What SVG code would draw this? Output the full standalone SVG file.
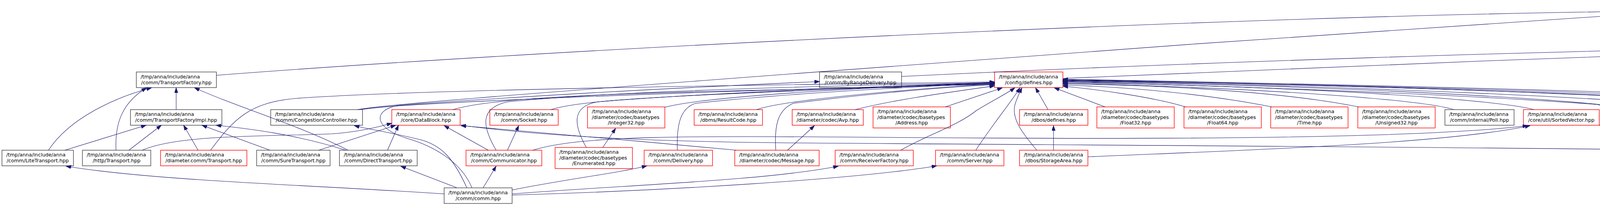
<svg xmlns="http://www.w3.org/2000/svg" width="6095" height="528" viewBox="0 0 6095 528">
<style>
.nd rect{fill:#ffffff;stroke:#404040;stroke-width:1.4}
.rd rect{fill:#ffffff;stroke:#ff0000;stroke-width:1.4}
.rt rect{fill:#bfbfbf;stroke:#404040;stroke-width:1.4}
text{font-family:"DejaVu Sans","Liberation Sans",sans-serif;font-size:12.7px;fill:#000000}
text.c{text-anchor:middle}
#edges path{fill:none;stroke:#191970;stroke-width:1.1;marker-end:url(#ah)}
</style>
<defs>
<marker id="ah" markerUnits="userSpaceOnUse" markerWidth="14" markerHeight="10" refX="13" refY="4.5" orient="auto">
<path d="M0,0 L13,4.5 L0,9 z" fill="#191970" stroke="#191970" stroke-width="1"/>
</marker>
</defs>
<rect x="0" y="0" width="6095" height="528" fill="#ffffff"/>

<g id="n_nrmutex" class="rt"><rect x="4199" y="6" width="176" height="40"/><text x="4210" y="22">/tmp/anna/include/anna</text><text class="c" x="4287" y="37">/core/mt/NRMutex.hpp</text></g>
<g id="n_logger" class="nd"><rect x="4765" y="95" width="180" height="40"/><text x="4776" y="111">/tmp/anna/include/anna</text><text class="c" x="4855" y="126">/core/tracing/Logger.hpp</text></g>

<g id="n_transportfactory" class="nd"><rect x="349" y="184.5" width="205" height="40"/><text x="360" y="200.5">/tmp/anna/include/anna</text><text class="c" x="451.5" y="215.5">/comm/TransportFactory.hpp</text></g>
<g id="n_byrangedelivery" class="nd"><rect x="2098" y="184.5" width="210" height="40"/><text x="2109" y="200.5">/tmp/anna/include/anna</text><text class="c" x="2203" y="215.5">/comm/ByRangeDelivery.hpp</text></g>
<g id="n_configdefines" class="rd"><rect x="2546" y="184.5" width="175" height="40"/><text x="2557" y="200.5">/tmp/anna/include/anna</text><text class="c" x="2633.5" y="215.5">/config/defines.hpp</text></g>
<g id="n_tracelevelchecker" class="nd"><rect x="4375" y="184.5" width="257" height="40"/><text x="4386" y="200.5">/tmp/anna/include/anna</text><text class="c" x="4503.5" y="215.5">/core/tracing/TraceLevelChecker.hpp</text></g>
<g id="n_diamappdefines" class="rd"><rect x="4654" y="184.5" width="192" height="40"/><text x="4665" y="200.5">/tmp/anna/include/anna</text><text class="c" x="4750" y="215.5">/diameter/app/defines.hpp</text></g>
<g id="n_timexcontext" class="rd"><rect x="4870" y="184.5" width="176" height="40"/><text x="4881" y="200.5">/tmp/anna/include/anna</text><text class="c" x="4958" y="215.5">/timex/Context.hpp</text></g>
<g id="n_tracemethod" class="nd"><rect x="5070" y="184.5" width="217" height="40"/><text x="5081" y="200.5">/tmp/anna/include/anna</text><text class="c" x="5178.5" y="215.5">/core/tracing/TraceMethod.hpp</text></g>
<g id="n_tracelogger" class="nd"><rect x="5311" y="184.5" width="211" height="40"/><text x="5322" y="200.5">/tmp/anna/include/anna</text><text class="c" x="5416.5" y="215.5">/core/tracing/TraceLogger.hpp</text></g>
<g id="n_configuration" class="nd"><rect x="5596" y="184.5" width="222" height="40"/><text x="5607" y="200.5">/tmp/anna/include/anna</text><text class="c" x="5707" y="215.5">/core/tracing/Configuration.hpp</text></g>
<g id="n_tracefunction" class="nd"><rect x="5843" y="184.5" width="222" height="40"/><text x="5854" y="200.5">/tmp/anna/include/anna</text><text class="c" x="5954" y="215.5">/core/tracing/TraceFunction.hpp</text></g>

<g id="n_transportfactoryimpl" class="nd"><rect x="334" y="281" width="234" height="40"/><text x="345" y="297">/tmp/anna/include/anna</text><text class="c" x="451" y="312">/comm/TransportFactoryImpl.hpp</text></g>
<g id="n_congestioncontroller" class="nd"><rect x="693" y="281" width="235" height="40"/><text x="704" y="297">/tmp/anna/include/anna</text><text class="c" x="810.5" y="312">/comm/CongestionController.hpp</text></g>
<g id="n_datablock" class="rd"><rect x="1003" y="281" width="175" height="40"/><text x="1014" y="297">/tmp/anna/include/anna</text><text class="c" x="1090.5" y="312">/core/DataBlock.hpp</text></g>
<g id="n_socket" class="rd"><rect x="1254" y="281" width="175" height="40"/><text x="1265" y="297">/tmp/anna/include/anna</text><text class="c" x="1341.5" y="312">/comm/Socket.hpp</text></g>
<g id="n_integer32" class="rd"><rect x="1504" y="274" width="198" height="54"/><text x="1515" y="290">/tmp/anna/include/anna</text><text x="1515" y="304.7">/diameter/codec/basetypes</text><text class="c" x="1603" y="319.4">/Integer32.hpp</text></g>
<g id="n_resultcode" class="rd"><rect x="1777" y="281" width="175" height="40"/><text x="1788" y="297">/tmp/anna/include/anna</text><text class="c" x="1864.5" y="312">/dbms/ResultCode.hpp</text></g>
<g id="n_avp" class="rd"><rect x="2028" y="281" width="182" height="40"/><text x="2039" y="297">/tmp/anna/include/anna</text><text class="c" x="2119" y="312">/diameter/codec/Avp.hpp</text></g>
<g id="n_address" class="rd"><rect x="2235" y="274" width="198" height="54"/><text x="2246" y="290">/tmp/anna/include/anna</text><text x="2246" y="304.7">/diameter/codec/basetypes</text><text class="c" x="2334" y="319.4">/Address.hpp</text></g>
<g id="n_dbosdefines" class="rd"><rect x="2610" y="281" width="175" height="40"/><text x="2621" y="297">/tmp/anna/include/anna</text><text class="c" x="2697.5" y="312">/dbos/defines.hpp</text></g>
<g id="n_float32" class="rd"><rect x="2808" y="274" width="198" height="54"/><text x="2819" y="290">/tmp/anna/include/anna</text><text x="2819" y="304.7">/diameter/codec/basetypes</text><text class="c" x="2907" y="319.4">/Float32.hpp</text></g>
<g id="n_float64" class="rd"><rect x="3031" y="274" width="198" height="54"/><text x="3042" y="290">/tmp/anna/include/anna</text><text x="3042" y="304.7">/diameter/codec/basetypes</text><text class="c" x="3130" y="319.4">/Float64.hpp</text></g>
<g id="n_time" class="rd"><rect x="3253" y="274" width="198" height="54"/><text x="3264" y="290">/tmp/anna/include/anna</text><text x="3264" y="304.7">/diameter/codec/basetypes</text><text class="c" x="3352" y="319.4">/Time.hpp</text></g>
<g id="n_unsigned32" class="rd"><rect x="3476" y="274" width="198" height="54"/><text x="3487" y="290">/tmp/anna/include/anna</text><text x="3487" y="304.7">/diameter/codec/basetypes</text><text class="c" x="3575" y="319.4">/Unsigned32.hpp</text></g>
<g id="n_poll" class="nd"><rect x="3699" y="281" width="177" height="40"/><text x="3710" y="297">/tmp/anna/include/anna</text><text class="c" x="3787.5" y="312">/comm/internal/Poll.hpp</text></g>
<g id="n_sortedvector" class="rd"><rect x="3900" y="281" width="194" height="40"/><text x="3911" y="297">/tmp/anna/include/anna</text><text class="c" x="3997" y="312">/core/util/SortedVector.hpp</text></g>
<g id="n_dbmsdata" class="rd"><rect x="4169" y="281" width="176" height="40"/><text x="4180" y="297">/tmp/anna/include/anna</text><text class="c" x="4257" y="312">/dbms/Data.hpp</text></g>
<g id="n_second" class="rd"><rect x="4368" y="281" width="176" height="40"/><text x="4379" y="297">/tmp/anna/include/anna</text><text class="c" x="4456" y="312">/core/util/Second.hpp</text></g>
<g id="n_resource" class="rd"><rect x="4567" y="281" width="176" height="40"/><text x="4578" y="297">/tmp/anna/include/anna</text><text class="c" x="4655" y="312">/core/mt/Resource.hpp</text></g>
<g id="n_lrumap" class="nd"><rect x="4766" y="281" width="176" height="40"/><text x="4777" y="297">/tmp/anna/include/anna</text><text class="c" x="4854" y="312">/core/util/LRUMap.hpp</text></g>
<g id="n_multimap" class="rd"><rect x="4964" y="281" width="176" height="40"/><text x="4975" y="297">/tmp/anna/include/anna</text><text class="c" x="5052" y="312">/core/util/MultiMap.hpp</text></g>
<g id="n_tracewriter" class="nd"><rect x="5163" y="281" width="206" height="40"/><text x="5174" y="297">/tmp/anna/include/anna</text><text class="c" x="5266" y="312">/core/tracing/TraceWriter.hpp</text></g>

<g id="n_litetransport" class="nd"><rect x="5" y="385" width="183" height="40"/><text x="16" y="401">/tmp/anna/include/anna</text><text class="c" x="96.5" y="416">/comm/LiteTransport.hpp</text></g>
<g id="n_httptransport" class="nd"><rect x="211" y="385" width="175" height="40"/><text x="222" y="401">/tmp/anna/include/anna</text><text class="c" x="298.5" y="416">/http/Transport.hpp</text></g>
<g id="n_diamcommtransport" class="rd"><rect x="411" y="385" width="221" height="40"/><text x="422" y="401">/tmp/anna/include/anna</text><text class="c" x="521.5" y="416">/diameter.comm/Transport.hpp</text></g>
<g id="n_suretransport" class="nd"><rect x="657" y="385" width="188" height="40"/><text x="668" y="401">/tmp/anna/include/anna</text><text class="c" x="751" y="416">/comm/SureTransport.hpp</text></g>
<g id="n_directtransport" class="nd"><rect x="869" y="385" width="199" height="40"/><text x="880" y="401">/tmp/anna/include/anna</text><text class="c" x="968.5" y="416">/comm/DirectTransport.hpp</text></g>
<g id="n_communicator" class="rd"><rect x="1193" y="385" width="194" height="40"/><text x="1204" y="401">/tmp/anna/include/anna</text><text class="c" x="1290" y="416">/comm/Communicator.hpp</text></g>
<g id="n_enumerated" class="rd"><rect x="1421" y="378" width="198" height="54"/><text x="1432" y="394">/tmp/anna/include/anna</text><text x="1432" y="408.7">/diameter/codec/basetypes</text><text class="c" x="1520" y="423.4">/Enumerated.hpp</text></g>
<g id="n_delivery" class="rd"><rect x="1649" y="385" width="175" height="40"/><text x="1660" y="401">/tmp/anna/include/anna</text><text class="c" x="1736.5" y="416">/comm/Delivery.hpp</text></g>
<g id="n_message" class="rd"><rect x="1881" y="385" width="216" height="40"/><text x="1892" y="401">/tmp/anna/include/anna</text><text class="c" x="1989" y="416">/diameter/codec/Message.hpp</text></g>
<g id="n_receiverfactory" class="rd"><rect x="2138" y="385" width="200" height="40"/><text x="2149" y="401">/tmp/anna/include/anna</text><text class="c" x="2238" y="416">/comm/ReceiverFactory.hpp</text></g>
<g id="n_server" class="rd"><rect x="2395" y="385" width="175" height="40"/><text x="2406" y="401">/tmp/anna/include/anna</text><text class="c" x="2482.5" y="416">/comm/Server.hpp</text></g>
<g id="n_storagearea" class="rd"><rect x="2610" y="385" width="175" height="40"/><text x="2621" y="401">/tmp/anna/include/anna</text><text class="c" x="2697.5" y="416">/dbos/StorageArea.hpp</text></g>
<g id="n_dbmsdate" class="rd"><rect x="4107" y="385" width="176" height="40"/><text x="4118" y="401">/tmp/anna/include/anna</text><text class="c" x="4195" y="416">/dbms/Date.hpp</text></g>
<g id="n_core" class="nd"><rect x="5249" y="385" width="175" height="40"/><text x="5260" y="401">/tmp/anna/include/anna</text><text class="c" x="5336.5" y="416">/core/core.hpp</text></g>

<g id="n_comm" class="nd"><rect x="1137" y="481.5" width="174" height="40"/><text x="1148" y="497.5">/tmp/anna/include/anna</text><text class="c" x="1224" y="512.5">/comm/comm.hpp</text></g>
<g id="n_testclock" class="nd"><rect x="5033" y="481.5" width="175" height="40"/><text x="5044" y="497.5">/tmp/anna/include/anna</text><text class="c" x="5120.5" y="512.5">/testing/TestClock.hpp</text></g>
<g id="n_threadmanager" class="nd"><rect x="5233" y="481.5" width="208" height="40"/><text x="5244" y="497.5">/tmp/anna/include/anna</text><text class="c" x="5337" y="512.5">/core/mt/ThreadManager.hpp</text></g>

<g id="edges">
<path d="M554,193 C1500,120 3200,40 4199,29"/>
<path d="M915,281 C990,266 1600,222 2030,189 C2600,146 3700,64 4199,35"/>
<path d="M926,281 C1000,265 1800,232 2546,216"/>
<path d="M124,385 C180,300 300,248 388,225"/>
<path d="M297,385 C294,320 310,265 375,225"/>
<path d="M891,385 C760,318 600,272 498,225"/>
<path d="M451,281 L451,225"/>
<path d="M166,385 L374,321"/>
<path d="M330,385 L413,321"/>
<path d="M507,385 L470,321"/>
<path d="M691,385 L517,321"/>
<path d="M885,385 C760,345 640,330 553,321"/>
<path d="M364,385 C460,343 700,350 850,343 C920,338 970,325 1003,316"/>
<path d="M816,385 L1013,321"/>
<path d="M992,385 L1020,321"/>
<path d="M539,385 C600,303 640,262 760,252 C1100,228 2000,217 2546,210"/>
<path d="M1137,497 C800,474 400,464 169,426"/>
<path d="M1169,481 L1026,426"/>
<path d="M1195,481 C1160,404 1130,374 1080,359 C1000,339 950,333 907,322"/>
<path d="M1208,481 C1180,414 1110,374 1040,354 C960,329 950,283 1020,270 C1400,242 1800,222 2098,209"/>
<path d="M1237,481 L1270,426"/>
<path d="M1311,487 C1450,459 1580,444 1656,425"/>
<path d="M1311,497 C1600,474 1950,464 2146,426"/>
<path d="M1311,500 C1700,489 2200,459 2398,425"/>
<path d="M1159,281 C1250,253 1500,240 2000,230 C2300,224 2450,218 2546,215"/>
<path d="M1410,281 C1500,252 1800,242 2546,213"/>
<path d="M1250,385 L1137,322"/>
<path d="M1299,385 L1328,322"/>
<path d="M1270,385 C1240,333 1220,278 1300,261 C1600,231 2200,218 2546,212"/>
<path d="M1364,385 C1500,343 1800,349 2400,353 C3200,359 3700,348 3911,322"/>
<path d="M1702,275 C1800,248 2200,224 2546,212"/>
<path d="M1501,378 C1470,323 1460,273 1530,261 C1800,238 2300,220 2546,211"/>
<path d="M1543,378 L1576,329"/>
<path d="M1734,385 C1732,323 1740,278 1780,265 C2000,240 2350,222 2546,213"/>
<path d="M1937,281 C2000,258 2300,230 2546,215"/>
<path d="M1986,385 C1982,323 1990,283 2030,265 C2200,243 2400,224 2546,217"/>
<path d="M1885,385 C1650,362 1400,343 1180,322"/>
<path d="M2016,385 L2085,322"/>
<path d="M2189,281 C2300,253 2450,234 2546,220"/>
<path d="M2420,274 L2566,225"/>
<path d="M2306,385 C2380,343 2450,323 2500,283 C2550,253 2580,238 2598,225"/>
<path d="M2498,385 C2540,320 2590,260 2611,225"/>
<path d="M2654,385 C2620,343 2585,303 2600,263 C2605,248 2610,238 2616,225"/>
<path d="M2697,385 L2697,322"/>
<path d="M2785,402 C3200,384 3700,369 3917,322"/>
<path d="M2683,281 L2651,225"/>
<path d="M2829,274 L2699,225"/>
<path d="M3035,274 C2950,248 2800,228 2721,221"/>
<path d="M3256,274 C3100,243 2900,223 2721,218"/>
<path d="M3478,274 C3300,238 3000,218 2721,215"/>
<path d="M3722,281 C3650,258 3300,228 2721,213"/>
<path d="M3927,281 C3850,258 3400,223 2721,211"/>
<path d="M4183,385 C4160,323 4130,278 4090,268 C3700,238 3000,217 2721,209"/>
<path d="M4207,385 L4240,322"/>
<path d="M4188,281 C4100,258 3500,222 2721,208"/>
<path d="M4393,281 C4300,258 3500,220 2721,207"/>
<path d="M4590,281 C4500,258 3700,220 2721,206"/>
<path d="M4788,281 C4700,265 3800,224 2721,205"/>
<path d="M4988,281 C4900,265 3900,226 2721,204"/>
<path d="M5190,281 C5100,265 4000,226 2721,203"/>
<path d="M2308,196 C3000,162 4000,128 4765,117"/>
<path d="M2721,201 C3200,182 4200,137 4765,121"/>
<path d="M4765,101 C4600,81 4450,53 4376,43"/>
<path d="M5424,394 C5650,340 6088,265 6088,209 C6088,121 5600,81 4376,28"/>
<path d="M5185,281 C5120,265 4800,265 4500,257 C4380,251 4330,222 4310,182 C4292,142 4287,91 4287,47"/>
<path d="M4582,184.5 L4772,136"/>
<path d="M4773,184.5 L4827,136"/>
<path d="M4935,184.5 L4882,136"/>
<path d="M5103,184.5 C5040,162 4980,147 4935,136"/>
<path d="M5322,184.5 C5200,164 5050,145 4946,130"/>
<path d="M5597,184.5 C5400,152 5100,137 4946,125"/>
<path d="M5843,184.5 C5600,142 5200,127 4946,119"/>
<path d="M5412,385 C5485,333 5565,243 5545,193 C5515,143 5300,127 4946,114"/>
<path d="M5188,281 C5100,265 4800,265 4480,253 C4380,243 4340,218 4355,193 C4380,153 4600,132 4765,125"/>
<path d="M5356,385 C5395,303 5380,253 5300,238 C5000,228 4800,227 4632,224"/>
<path d="M5374,385 C5430,323 5440,273 5400,258 C5350,243 5310,235 5282,225"/>
<path d="M5400,385 C5460,333 5490,273 5447,225"/>
<path d="M5418,385 C5520,344 5620,314 5688,225"/>
<path d="M5424,387 C5600,334 5750,294 5897,225"/>
<path d="M5321,385 L5283,321"/>
<path d="M5279,385 L5112,321"/>
<path d="M5249,391 C5100,364 5000,344 4930,321"/>
<path d="M5249,395 C5000,379 4850,359 4730,321"/>
<path d="M5249,398 C4900,384 4650,354 4527,321"/>
<path d="M5249,401 C4800,389 4300,354 4095,321"/>
<path d="M5249,403 C4500,379 3000,374 2000,366 C1600,362 1350,344 1180,321"/>
<path d="M5167,481.5 L5290,425"/>
<path d="M5329,481.5 C5324,459 5324,444 5328,425"/>
<path d="M5345,425 C5348,444 5348,464 5345,481.5"/>
</g>
</svg>
